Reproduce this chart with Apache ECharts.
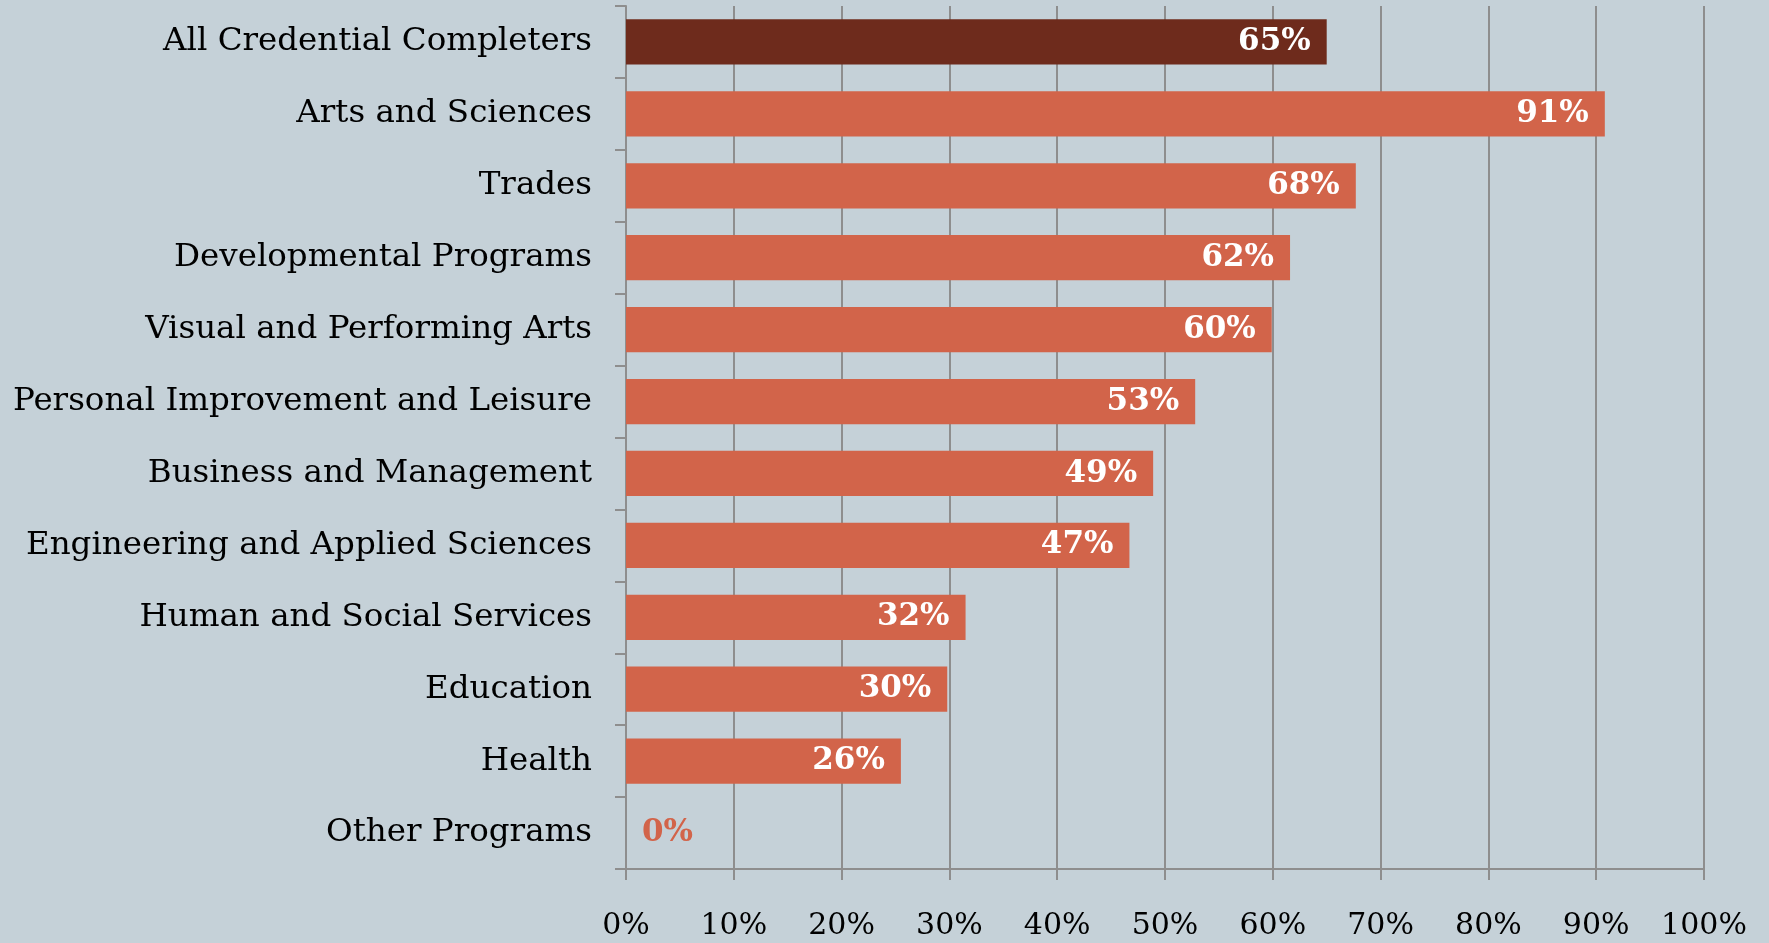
<!DOCTYPE html>
<html>
<head>
<meta charset="utf-8">
<script src="https://cdn.jsdelivr.net/npm/echarts@6/dist/echarts.min.js"></script>
<style>
html,body{margin:0;padding:0;background:#c5d1d8;}
#chart{width:1769px;height:943px;}
</style>
</head>
<body>
<div id="chart"></div>
<script>
const categories = [
  "All Credential Completers",
  "Arts and Sciences",
  "Trades",
  "Developmental Programs",
  "Visual and Performing Arts",
  "Personal Improvement and Leisure",
  "Business and Management",
  "Engineering and Applied Sciences",
  "Human and Social Services",
  "Education",
  "Health",
  "Other Programs"
];
const values = [65, 90.8, 67.7, 61.6, 59.9, 52.8, 48.9, 46.7, 31.5, 29.8, 25.5, 0];
const xTicks = [0, 10, 20, 30, 40, 50, 60, 70, 80, 90, 100];

const FONT = "DejaVu Serif";
const barColor = "#d2644a";
const highlightColor = "#6e2b1c";
const gridColor = "#8e8e8e";

const seriesData = values.map((v, i) => {
  const item = { value: v, itemStyle: { color: i === 0 ? highlightColor : barColor } };
  if (v === 0) {
    item.label = { position: "right", distance: 16, color: barColor };
  }
  return item;
});

const chart = echarts.init(document.getElementById("chart"));
chart.setOption({
  backgroundColor: "#c5d1d8",
  animation: false,
  grid: { left: 626, right: 65, top: 6, bottom: 74, containLabel: false },
  xAxis: {
    type: "value",
    min: xTicks[0],
    max: xTicks[xTicks.length - 1],
    interval: 10,
    axisLine: { show: true, lineStyle: { color: gridColor, width: 2 } },
    axisTick: { show: true, length: 11, lineStyle: { color: gridColor, width: 2 } },
    splitLine: { show: true, lineStyle: { color: gridColor, width: 2 } },
    axisLabel: {
      margin: 42,
      fontFamily: FONT,
      fontSize: 30,
      color: "#000",
      formatter: v => xTicks.includes(v) ? v + "%" : ""
    }
  },
  yAxis: {
    type: "category",
    data: categories,
    inverse: true,
    axisLine: { show: true, lineStyle: { color: gridColor, width: 2 } },
    axisTick: { show: true, length: 11, lineStyle: { color: gridColor, width: 2 } },
    axisLabel: {
      margin: 34,
      fontFamily: FONT,
      fontSize: 32.5,
      color: "#000",
      padding: [6, 0, 0, 0]
    }
  },
  series: [{
    type: "bar",
    data: seriesData,
    barCategoryGap: "37%",
    z: 3,
    label: {
      show: true,
      position: "insideRight",
      distance: 16,
      color: "#fff",
      fontFamily: FONT,
      fontWeight: "bold",
      fontSize: 31,
      padding: [4, 0, 0, 0],
      formatter: p => Math.round(p.value) + "%"
    }
  }]
});
</script>
</body>
</html>
